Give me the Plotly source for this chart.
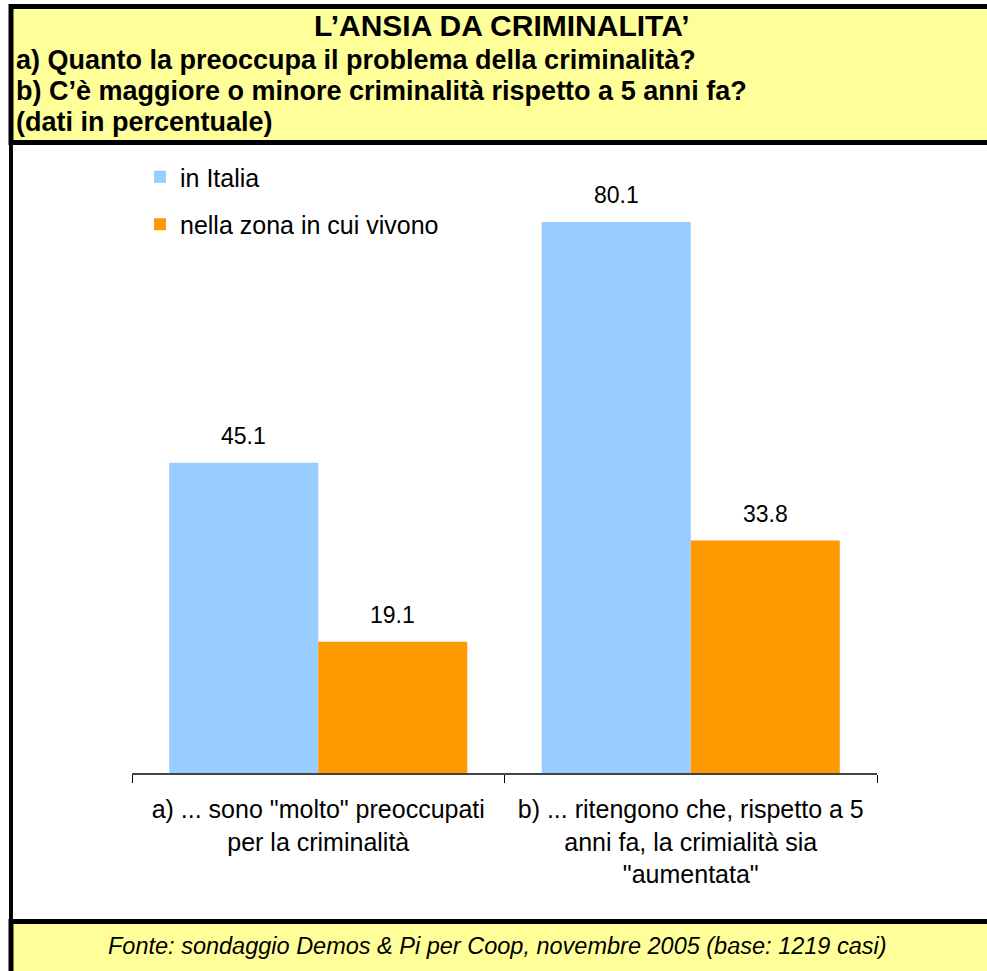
import plotly.graph_objects as go

# Data
categories = [
    'a) ... sono "molto" preoccupati<br>per la criminalità',
    'b) ... ritengono che, rispetto a 5<br>anni fa, la crimialità sia<br>"aumentata"',
]
series_names = ['in Italia', 'nella zona in cui vivono']
italia = [45.1, 80.1]
zona = [19.1, 33.8]

title_lines = [
    'a) Quanto la preoccupa il problema della criminalità?',
    'b) C’è maggiore o minore criminalità rispetto a 5 anni fa?',
    '(dati in percentuale)',
]
main_title = 'L’ANSIA DA CRIMINALITA’'
source = 'Fonte: sondaggio Demos & Pi per Coop, novembre 2005 (base: 1219 casi)'

BLUE = '#99CCFF'
ORANGE = '#FF9900'
YELLOW = '#FFFF99'
FONT = 'Arial, Liberation Sans, sans-serif'

W, H = 987, 971
L, R, T, B = 132, 110, 154, 198
PW = W - L - R
PH = H - T - B


def px(x):
    """pixel x -> paper x"""
    return (x - L) / PW


def py(y):
    """pixel y (from top) -> paper y"""
    return (H - B - y) / PH


fig = go.Figure()
fig.add_trace(go.Bar(x=categories, y=italia, name=series_names[0],
                     marker=dict(color=BLUE, line=dict(width=0)),
                     legendgroup='a', hoverinfo='skip'))
fig.add_trace(go.Bar(x=categories, y=zona, name=series_names[1],
                     marker=dict(color=ORANGE, line=dict(width=0)),
                     legendgroup='b', hoverinfo='skip'))

# value labels above bars
for i, (va, vb) in enumerate(zip(italia, zona)):
    for off, v in ((-0.2, va), (0.2, vb)):
        fig.add_annotation(x=i + off, y=v, xref='x', yref='y', text=f'{v:.1f}',
                           showarrow=False, yanchor='bottom', yshift=12,
                           font=dict(size=23, color='black', family=FONT))

# header and footer boxes
shapes = [
    dict(type='rect', xref='paper', yref='paper',
         x0=px(11), x1=px(995), y0=py(142.5), y1=py(6.5),
         fillcolor=YELLOW, line=dict(color='black', width=5), layer='below'),
    dict(type='line', xref='paper', yref='paper',
         x0=px(11), x1=px(11), y0=py(145), y1=py(921),
         line=dict(color='black', width=4)),
    dict(type='rect', xref='paper', yref='paper',
         x0=px(11), x1=px(995), y0=py(980), y1=py(921.5),
         fillcolor=YELLOW, line=dict(color='black', width=5), layer='below'),
]

fig.add_annotation(x=px(502), y=py(25), xref='paper', yref='paper', text=f'<b>{main_title}</b>',
                   showarrow=False, xanchor='center', yanchor='middle',
                   font=dict(size=30, color='black', family=FONT))
for k, line in enumerate(title_lines):
    fig.add_annotation(x=px(14), y=py(60 + 31 * k), xref='paper', yref='paper',
                       text=f'<b>{line}</b>', showarrow=False,
                       xanchor='left', yanchor='middle',
                       font=dict(size=27, color='black', family=FONT))
fig.add_annotation(x=px(497), y=py(946), xref='paper', yref='paper', text=f'<i>{source}</i>',
                   showarrow=False, xanchor='center', yanchor='middle',
                   font=dict(size=23.5, color='black', family=FONT))

fig.update_layout(
    width=W, height=H,
    margin=dict(l=L, r=R, t=T, b=B),
    paper_bgcolor='white', plot_bgcolor='white',
    barmode='group', bargap=0.2, bargroupgap=0,
    shapes=shapes,
    showlegend=True,
    legend=dict(x=px(140), y=py(154), xanchor='left', yanchor='top',
                font=dict(size=25, color='black', family=FONT),
                bgcolor='rgba(0,0,0,0)', tracegroupgap=12, traceorder='grouped'),
    xaxis=dict(showline=True, linecolor='#444444', linewidth=2,
               ticks='outside', tickson='boundaries', ticklen=8, tickcolor='black',
               ticklabelstandoff=13,
               tickfont=dict(size=25, color='black', family=FONT),
               showgrid=False, zeroline=False, fixedrange=True),
    yaxis=dict(visible=False, range=[0, 90], showgrid=False, zeroline=False),
    font=dict(family=FONT),
)

fig.write_html('out.html', config={'displayModeBar': False},
               post_script="document.body.style.margin='0';")
